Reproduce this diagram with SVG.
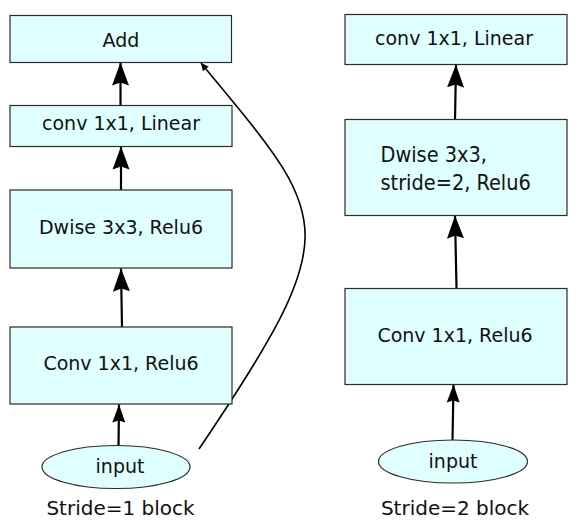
<svg xmlns="http://www.w3.org/2000/svg" width="582" height="530" viewBox="0 0 582 530">
<style>
.box{fill:#e0ffff;stroke:#2a2a2a;stroke-width:1.2}
.t{font-family:"DejaVu Sans",sans-serif;font-size:19px;fill:#111;text-anchor:middle}
.tl{font-family:"DejaVu Sans Condensed","DejaVu Sans",sans-serif;font-size:21.5px;fill:#111}
.cap{font-family:"DejaVu Sans",sans-serif;font-size:20px;fill:#111;text-anchor:middle}
.a{stroke:#000;stroke-width:2.2;fill:none}
.c{stroke:#000;stroke-width:1.6;fill:none}
</style>
<defs>
<marker id="big" markerUnits="userSpaceOnUse" markerWidth="26" markerHeight="20" viewBox="-23 -10 26 20" refX="0" refY="0" orient="auto">
<path d="M0,0 L-23,-8.5 L-20,0 L-23,8.5 z" fill="#000"/>
</marker>
<marker id="mid" markerUnits="userSpaceOnUse" markerWidth="22" markerHeight="16" viewBox="-19 -8 22 16" refX="0" refY="0" orient="auto">
<path d="M0,0 L-18,-6.5 L-16,0 L-18,6.5 z" fill="#000"/>
</marker>
<marker id="tiny" markerUnits="userSpaceOnUse" markerWidth="10" markerHeight="10" viewBox="-7 -4 8 8" refX="0" refY="0" orient="auto">
<path d="M0,0 L-6,-3 L-6,3 z" fill="#000"/>
</marker>
</defs>
<g id="connectors">
<line class="a" x1="120.5" y1="105" x2="120.5" y2="62.5" marker-end="url(#big)"/>
<line class="a" x1="121" y1="190" x2="121" y2="146.5" marker-end="url(#big)"/>
<line class="a" x1="122" y1="327" x2="121" y2="268.5" marker-end="url(#big)"/>
<line class="a" x1="118.5" y1="447" x2="119" y2="404.5" marker-end="url(#mid)"/>
<path class="c" d="M199,449 C350,225 330,220 201,63" marker-end="url(#tiny)"/>
<line class="a" x1="455" y1="120" x2="456" y2="64.5" marker-end="url(#big)"/>
<line class="a" x1="456.5" y1="288" x2="455" y2="215.5" marker-end="url(#big)"/>
<line class="a" x1="452.5" y1="440" x2="453.5" y2="384.5" marker-end="url(#mid)"/>
</g>
<g id="add">
<rect class="box" x="10" y="15.5" width="221.5" height="47"/>
<text class="t" x="121" y="47">Add</text>
</g>
<g id="conv-linear-1">
<rect class="box" x="10" y="105.5" width="222" height="41"/>
<text class="t" x="121" y="130">conv 1x1, Linear</text>
</g>
<g id="dwise-1">
<rect class="box" x="10" y="190" width="222" height="78"/>
<text class="t" x="121" y="233.5">Dwise 3x3, Relu6</text>
</g>
<g id="conv-relu-1">
<rect class="box" x="10" y="327" width="222" height="77"/>
<text class="t" x="121" y="370">Conv 1x1, Relu6</text>
</g>
<g id="input-1">
<ellipse class="box" cx="116" cy="467" rx="74" ry="21.5"/>
<text class="t" x="120" y="473">input</text>
</g>
<text class="cap" x="120.5" y="514.5">Stride=1 block</text>
<g id="conv-linear-2">
<rect class="box" x="345" y="14.5" width="222" height="50"/>
<text class="t" x="454" y="45">conv 1x1, Linear</text>
</g>
<g id="dwise-2">
<rect class="box" x="345" y="119.5" width="222" height="96"/>
<text class="tl" x="380.5" y="161.5">Dwise 3x3,</text>
<text class="tl" x="380.5" y="189.5">stride=2, Relu6</text>
</g>
<g id="conv-relu-2">
<rect class="box" x="345" y="288.5" width="222" height="96"/>
<text class="t" x="455" y="341.5">Conv 1x1, Relu6</text>
</g>
<g id="input-2">
<ellipse class="box" cx="453" cy="461.5" rx="74.5" ry="21.5"/>
<text class="t" x="453" y="468">input</text>
</g>
<text class="cap" x="455" y="515">Stride=2 block</text>
</svg>
